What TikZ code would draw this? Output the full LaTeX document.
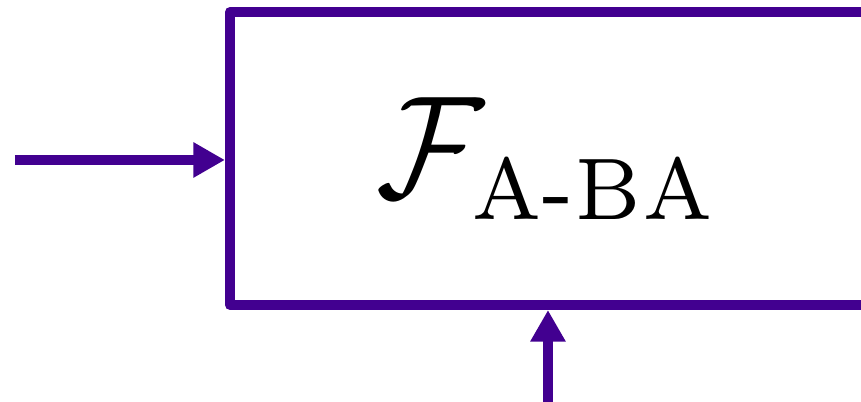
\documentclass[tikz,border=0pt]{standalone}
\usepackage{amsmath, amssymb}
\usepackage{xcolor}
\usepackage{tikz}
\usetikzlibrary{arrows.meta, positioning}
\definecolor{themepurple}{RGB}{66, 0, 144}

\begin{document}
\begin{tikzpicture}[>={Triangle[length=3.6pt, width=3.8pt]}, line width=1.15pt, line join=round]
    \useasboundingbox (0,0) rectangle (3.444,1.608);
    \node[draw=themepurple, minimum width=2.544cm, minimum height=1.172cm, inner sep=0pt] (fab) at (2.192,0.974) {\scalebox{1.5}[1.66]{$\mathcal{F}_{\text{\fontsize{6}{7}\selectfont A-BA}}$}};
    \coordinate (in) at (0.06,0.968);
    \coordinate (ctrl) at (2.192,-0.05);
    \draw[->, themepurple] (in) -- (in -| fab.west);
    \draw[->, themepurple] (ctrl) -- (fab.south);
\end{tikzpicture}
\end{document}
